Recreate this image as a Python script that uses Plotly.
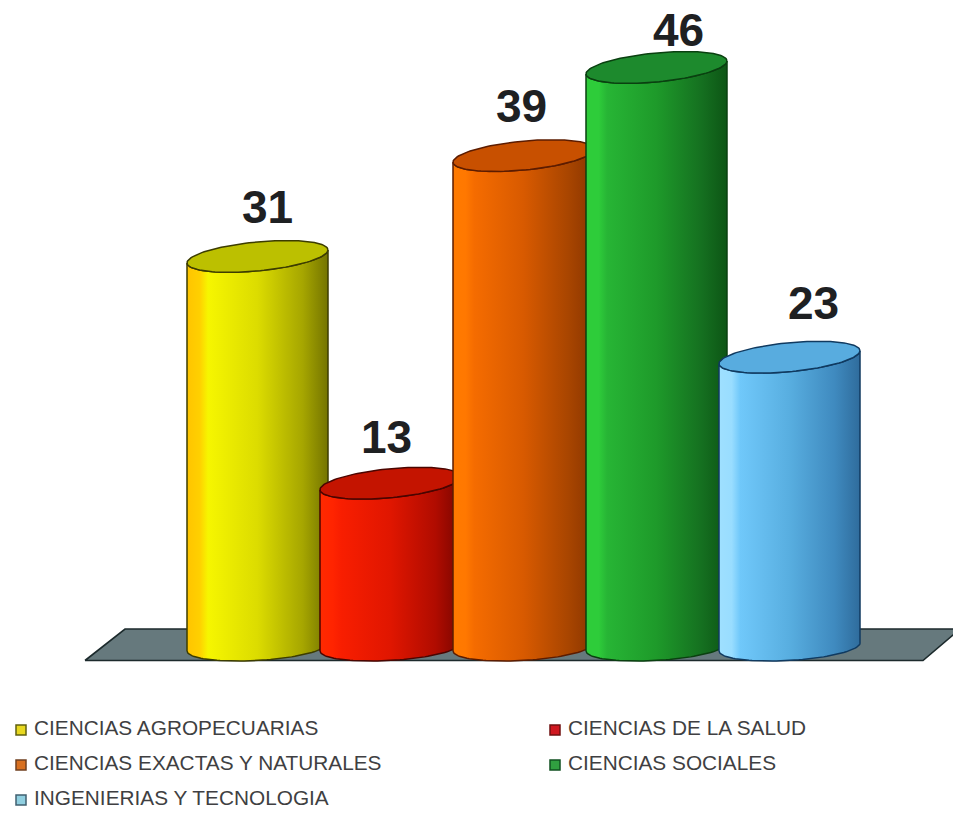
import numpy as np
import plotly.graph_objects as go

# data
categories = ["CIENCIAS AGROPECUARIAS", "CIENCIAS DE LA SALUD", "CIENCIAS EXACTAS Y NATURALES",
              "CIENCIAS SOCIALES", "INGENIERIAS Y TECNOLOGIA"]
values = [31, 13, 39, 46, 23]

# colours: body gradient left->right, top cap, outline, legend swatch
gradients = [
    ["#ffc400", "#ffd000", "#f6f600", "#dcdc00", "#a6a600", "#747400"],
    ["#ff2a00", "#ff2400", "#f81e00", "#e01600", "#b00c00", "#7a0500"],
    ["#ff7a00", "#ff7800", "#f56c00", "#d85a00", "#a84500", "#8a3500"],
    ["#2ecc3a", "#2ecc3a", "#27b535", "#1e9a2a", "#157020", "#0d5515"],
    ["#9fe0ff", "#99ddff", "#70c8fa", "#58aee0", "#3f8abf", "#2f6c9c"],
]
grad_stops = [0, 0.09, 0.15, 0.5, 0.82, 1]
caps = ["#bcc000", "#c41400", "#c85000", "#1d8a2d", "#58acdf"]
outlines = ["#3c3c00", "#4a0500", "#5c1c00", "#0a4010", "#103a60"]
swatches = ["#e8d820", "#d01820", "#d87020", "#30a040", "#90cfe0"]
swatch_lines = ["#606010", "#701010", "#704020", "#105020", "#406070"]

W, H = 953, 815
# one value unit is 12.6 px, base of the bars sits at pixel 647
unit = 12.6
base_px = 647
step = 133  # px between bars
first_px = 257.5


def to_x(px):
    return (px - first_px) / step


def to_y(px):
    return (base_px - px) / unit


half = 70.5 / step
cap_b = 14.5 / unit
cap_tilt = 6.5 / unit
foot_b = 13.5 / unit
foot_tilt = 4 / unit

# label offsets in px from the centre of the cap, picked by eye
label_dx = [10, -4, -2, 22, 24]
label_dy = [45, 42, 45, 33, 50]

fig = go.Figure()

# grey floor
floor_x = [to_x(p) for p in [85, 125, 960, 923, 85]]
floor_y = [to_y(p) for p in [660.5, 629, 629, 660.5, 660.5]]
fig.add_trace(go.Scatter(x=floor_x, y=floor_y, mode="lines", fill="toself",
                         fillcolor="#66797d", line=dict(color="#1c2a2c", width=1.6),
                         hoverinfo="skip", showlegend=False))

for i, v in enumerate(values):
    t_low = np.linspace(np.pi, 0, 60)
    # body: round the foot left to right, then back right to left along the cap front
    foot_x = i + half * np.cos(t_low)
    foot_y = -foot_b * np.sin(t_low) + foot_tilt * np.cos(t_low)
    cap_front_x = i + half * np.cos(t_low[::-1])
    cap_front_y = v - cap_b * np.sin(t_low[::-1]) + cap_tilt * np.cos(t_low[::-1])
    body_x = np.concatenate([foot_x, cap_front_x, foot_x[:1]])
    body_y = np.concatenate([foot_y, cap_front_y, foot_y[:1]])
    fig.add_trace(go.Scatter(
        x=body_x, y=body_y, mode="lines", fill="toself",
        fillgradient=dict(type="horizontal",
                          colorscale=list(zip(grad_stops, gradients[i]))),
        line=dict(color=outlines[i], width=1.5),
        hoverinfo="skip", showlegend=False))
    # top cap
    t = np.linspace(0, 2 * np.pi, 120)
    fig.add_trace(go.Scatter(
        x=i + half * np.cos(t), y=v + cap_b * np.sin(t) + cap_tilt * np.cos(t),
        mode="lines", fill="toself", fillcolor=caps[i],
        line=dict(color=outlines[i], width=1.5),
        hoverinfo="skip", showlegend=False))

# value labels
fig.add_trace(go.Scatter(
    x=[i + dx / step for i, dx in enumerate(label_dx)],
    y=[v + dy / unit for v, dy in zip(values, label_dy)],
    mode="text", text=[str(v) for v in values], textposition="middle center",
    textfont=dict(family="Liberation Sans", size=46, color="#1e2022", weight="bold"),
    hoverinfo="skip", showlegend=False))

# legend, two columns
legend_px = [(21, 730), (555, 730), (21, 765), (555, 765), (21, 800)]
fig.add_trace(go.Scatter(
    x=[to_x(p[0]) for p in legend_px], y=[to_y(p[1]) for p in legend_px],
    mode="markers",
    marker=dict(symbol="square", size=10, color=swatches,
                line=dict(color=swatch_lines, width=1.5)),
    hoverinfo="skip", showlegend=False))
fig.add_trace(go.Scatter(
    x=[to_x(p[0] + 13) for p in legend_px], y=[to_y(p[1]) for p in legend_px],
    mode="text", text=categories, textposition="middle right",
    textfont=dict(family="Liberation Sans", size=20.8, color="#3f3f42"),
    hoverinfo="skip", showlegend=False))

fig.update_layout(
    width=W, height=H, margin=dict(l=0, r=0, t=0, b=0),
    paper_bgcolor="white", plot_bgcolor="white", showlegend=False,
    xaxis=dict(range=[to_x(0), to_x(W)], visible=False, fixedrange=True),
    yaxis=dict(range=[to_y(H), to_y(0)], visible=False, fixedrange=True),
)

fig.write_html("out.html", config=dict(displayModeBar=False),
               post_script="document.body.style.margin='0';document.body.style.overflow='hidden';")
